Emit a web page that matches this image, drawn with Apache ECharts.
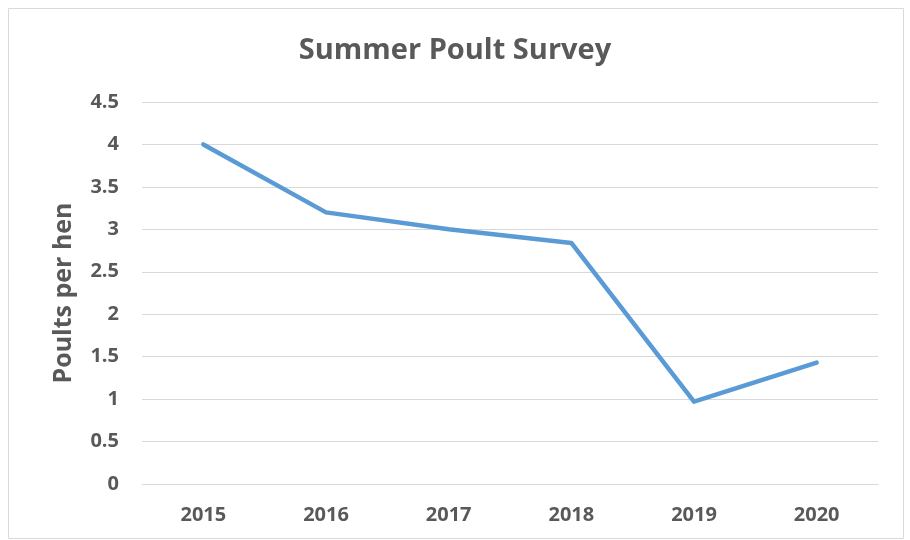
<!DOCTYPE html>
<html><head><meta charset="utf-8">
<script src="https://cdn.jsdelivr.net/npm/echarts@6/dist/echarts.min.js"></script>
<style>html,body{margin:0;padding:0;background:#fff}#c{width:910px;height:540px}</style>
</head><body><div id="c"></div>
<script>
const years = ['2015','2016','2017','2018','2019','2020'];
const poultsPerHen = [4.0, 3.2, 3.0, 2.84, 0.97, 1.43];
const yTicks = {min: 0, max: 4.5, interval: 0.5};

const chart = echarts.init(document.getElementById('c'));
const font = 'Open Sans';
chart.setOption({
  backgroundColor: '#fff',
  animation: false,
  title: {
    text: 'Summer Poult Survey', left: 'center', top: 31,
    textStyle: {fontFamily: font, fontSize: 29, fontWeight: 'bold', color: '#595959'}
  },
  graphic: [{type: 'rect', shape: {x: 8.5, y: 8.5, width: 895, height: 530},
    style: {fill: 'none', stroke: '#d9d9d9', lineWidth: 1}, silent: true}],
  grid: {left: 142, right: 32, top: 102, bottom: 56},
  xAxis: {
    type: 'category', data: years, boundaryGap: true,
    axisLine: {show: true, lineStyle: {color: '#d9d9d9', width: 1}},
    axisTick: {show: false},
    axisLabel: {fontFamily: font, fontSize: 20, fontWeight: 'bold', color: '#595959', margin: 21}
  },
  yAxis: {
    type: 'value', min: yTicks.min, max: yTicks.max, interval: yTicks.interval,
    name: 'Poults per hen', nameLocation: 'middle', nameGap: 66, nameRotate: 90,
    nameTextStyle: {fontFamily: font, fontSize: 25, fontWeight: 'bold', color: '#595959'},
    axisLine: {show: false}, axisTick: {show: false},
    axisLabel: {fontFamily: font, fontSize: 20, fontWeight: 'bold', color: '#595959', margin: 23},
    splitLine: {lineStyle: {color: '#d9d9d9', width: 1}}
  },
  series: [{
    type: 'line', data: poultsPerHen, symbol: 'none',
    lineStyle: {color: '#5b9bd5', width: 4.5, cap: 'round', join: 'round'}
  }]
});
</script></body></html>
